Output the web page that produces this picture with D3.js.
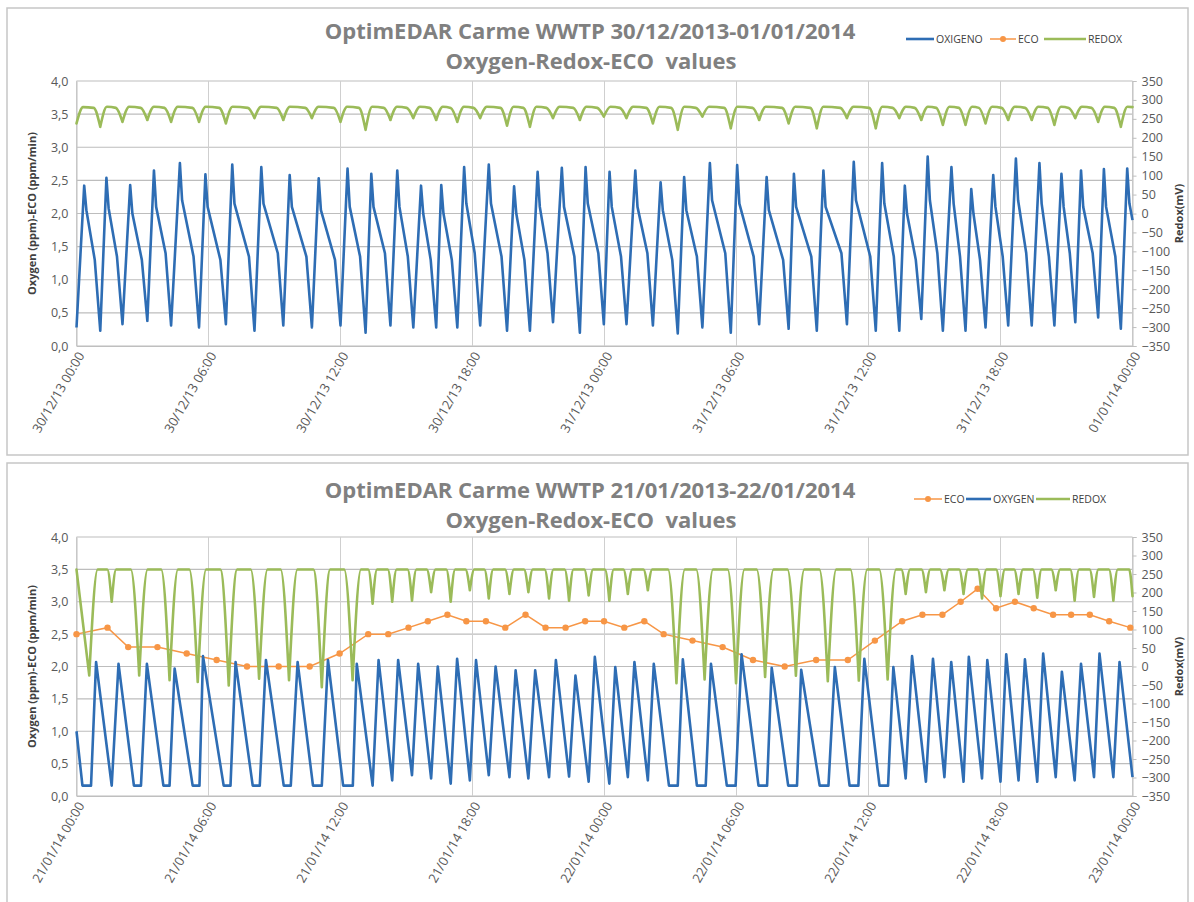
<!DOCTYPE html>
<html><head><meta charset="utf-8">
<script src="https://cdn.jsdelivr.net/npm/d3@7"></script>
<style>
body{margin:0;background:#fff}
svg{display:block}
text{font-family:"Open Sans",sans-serif}
</style>
</head><body>
<svg id="c" width="1194" height="902"></svg>
<script>
// ---------------- DATA ----------------
const leftTicks = [0, 0.5, 1, 1.5, 2, 2.5, 3, 3.5, 4];
const rightTicks = [-350,-300,-250,-200,-150,-100,-50,0,50,100,150,200,250,300,350];

const topTitle = "OptimEDAR Carme WWTP 30/12/2013-01/01/2014";
const bottomTitle = "OptimEDAR Carme WWTP 21/01/2013-22/01/2014";
const subTitle = "Oxygen-Redox-ECO  values";
const leftAxisTitle = "Oxygen (ppm)-ECO (ppm/min)";
const rightAxisTitle = "Redox(mV)";
const topLegend = ["OXIGENO", "ECO", "REDOX"];
const bottomLegend = ["ECO", "OXYGEN", "REDOX"];

// [hours since start, ppm]
const topOxygen = [[0,0.28],
[0.35,2.42],[0.45,2.05],[0.83,1.3],[1.08,0.23],
[1.36,2.54],[1.46,2.08],[1.84,1.35],[2.09,0.33],
[2.44,2.43],[2.54,2.0],[2.97,1.3],[3.22,0.38],
[3.52,2.65],[3.62,2.1],[4.05,1.4],[4.30,0.31],
[4.70,2.76],[4.80,2.2],[5.32,1.35],[5.57,0.28],
[5.86,2.59],[5.96,2.1],[6.54,1.3],[6.79,0.33],
[7.08,2.74],[7.18,2.15],[7.84,1.35],[8.09,0.23],
[8.40,2.70],[8.50,2.15],[9.15,1.4],[9.40,0.31],
[9.69,2.58],[9.79,2.1],[10.45,1.35],[10.70,0.28],
[11.01,2.53],[11.11,2.05],[11.75,1.3],[12.0,0.31],
[12.32,2.68],[12.42,2.1],[12.89,1.35],[13.14,0.2],
[13.40,2.60],[13.50,2.1],[14.02,1.4],[14.27,0.31],
[14.58,2.65],[14.68,2.1],[15.06,1.35],[15.31,0.28],
[15.66,2.42],[15.76,2.0],[16.10,1.3],[16.35,0.28],
[16.58,2.43],[16.68,2.0],[17.06,1.3],[17.31,0.28],
[17.62,2.70],[17.72,2.15],[18.10,1.4],[18.35,0.31],
[18.74,2.74],[18.84,2.15],[19.32,1.35],[19.57,0.23],
[19.89,2.41],[19.99,2.0],[20.36,1.3],[20.61,0.23],
[20.96,2.63],[21.06,2.1],[21.41,1.4],[21.66,0.36],
[22.06,2.69],[22.16,2.1],[22.63,1.35],[22.88,0.2],
[23.14,2.70],[23.24,2.15],[23.72,1.4],[23.97,0.33],
[24.23,2.63],[24.33,2.1],[24.75,1.35],[25.0,0.33],
[25.40,2.65],[25.50,2.1],[25.95,1.4],[26.2,0.31],
[26.55,2.47],[26.65,2.05],[27.08,1.3],[27.33,0.19],
[27.62,2.55],[27.72,2.05],[28.20,1.35],[28.45,0.28],
[28.79,2.76],[28.89,2.2],[29.49,1.4],[29.74,0.2],
[30.03,2.73],[30.13,2.15],[30.78,1.35],[31.03,0.33],
[31.37,2.55],[31.47,2.05],[32.12,1.3],[32.37,0.26],
[32.61,2.6],[32.71,2.1],[33.40,1.35],[33.65,0.23],
[33.95,2.65],[34.05,2.1],[34.77,1.4],[35.02,0.33],
[35.33,2.78],[35.43,2.2],[36.08,1.35],[36.33,0.23],
[36.62,2.76],[36.72,2.15],[37.15,1.35],[37.40,0.23],
[37.65,2.42],[37.75,2.0],[38.15,1.3],[38.40,0.41],
[38.69,2.86],[38.79,2.2],[39.13,1.4],[39.38,0.23],
[39.77,2.70],[39.87,2.15],[40.16,1.35],[40.41,0.23],
[40.67,2.37],[40.77,2.0],[41.07,1.3],[41.32,0.28],
[41.67,2.58],[41.77,2.1],[42.10,1.35],[42.35,0.31],
[42.70,2.83],[42.80,2.2],[43.17,1.4],[43.42,0.31],
[43.77,2.76],[43.87,2.15],[44.20,1.35],[44.45,0.31],
[44.77,2.6],[44.87,2.1],[45.15,1.4],[45.40,0.36],
[45.66,2.65],[45.76,2.1],[46.19,1.4],[46.44,0.43],
[46.70,2.67],[46.80,2.1],[47.22,1.35],[47.47,0.26],
[47.76,2.68],[47.86,2.15],[48.0,1.9]];

// [hours, mV]
const topRedox = [[0,238],[0.3,281],[0.78,279],[1.08,229],[1.38,282],[1.79,279],[2.09,242],[2.39,282],[2.92,279],[3.22,247],[3.52,282],[4.0,279],[4.30,242],[4.6,282],[5.27,279],[5.57,242],[5.87,282],[6.49,279],[6.79,238],[7.09,282],[7.79,279],[8.09,252],[8.39,282],[9.1,279],[9.40,247],[9.7,282],[10.4,279],[10.70,252],[11.0,282],[11.7,279],[12.0,242],[12.3,282],[12.84,279],[13.14,221],[13.44,282],[13.97,279],[14.27,247],[14.57,282],[15.01,279],[15.31,252],[15.61,282],[16.05,279],[16.35,247],[16.65,282],[17.01,279],[17.31,242],[17.61,282],[18.05,279],[18.35,252],[18.65,282],[19.27,279],[19.57,232],[19.87,282],[20.31,279],[20.61,229],[20.91,282],[21.36,279],[21.66,252],[21.96,282],[22.58,279],[22.88,247],[23.18,282],[23.67,279],[23.97,256],[24.27,282],[24.7,279],[25.0,252],[25.3,282],[25.9,279],[26.2,238],[26.5,282],[27.03,279],[27.33,221],[27.63,282],[28.15,279],[28.45,256],[28.75,282],[29.44,279],[29.74,225],[30.04,282],[30.73,279],[31.03,247],[31.33,282],[32.07,279],[32.37,238],[32.67,282],[33.35,279],[33.65,225],[33.95,282],[34.72,279],[35.02,252],[35.32,282],[36.03,279],[36.33,225],[36.63,282],[37.1,279],[37.40,252],[37.7,282],[38.1,279],[38.40,247],[38.7,282],[39.08,279],[39.38,234],[39.68,282],[40.11,279],[40.41,234],[40.71,282],[41.02,279],[41.32,238],[41.62,282],[42.05,279],[42.35,247],[42.65,282],[43.12,279],[43.42,247],[43.72,282],[44.15,279],[44.45,234],[44.75,282],[45.1,279],[45.40,252],[45.7,282],[46.14,279],[46.44,242],[46.74,282],[47.17,279],[47.47,229],[47.77,282],[48.0,281]];

const bottomOxygen = [[0,1.0],[0.27,0.16],[0.66,0.16],[0.89,2.07],[1.60,0.16],[1.91,2.04],[2.61,0.16],[2.93,0.16],[3.2,2.04],[3.95,0.16],[4.23,0.16],[4.46,1.97],[5.28,0.16],[5.59,0.16],[5.75,2.16],[6.69,0.16],[7.0,0.16],[7.23,2.07],[8.01,0.16],[8.33,0.16],[8.61,2.10],[9.42,0.16],[9.74,0.16],[10.05,2.07],[10.75,0.16],[11.15,0.16],[11.43,2.10],[12.12,0.16],[12.56,0.16],[12.74,2.04],[13.46,0.16],[13.73,2.10],[14.35,0.24],[14.62,2.10],[15.25,0.32],[15.53,2.04],[16.12,0.27],[16.42,2.0],[17.01,0.19],[17.30,2.12],[17.88,0.24],[18.16,2.10],[18.74,0.32],[19.05,2.0],[19.68,0.29],[19.96,1.94],[20.54,0.27],[20.85,1.94],[21.48,0.29],[21.79,2.10],[22.39,0.30],[22.68,1.86],[23.28,0.22],[23.56,2.15],[24.22,0.19],[24.49,1.99],[25.06,0.29],[25.36,2.07],[25.97,0.24],[26.24,2.04],[26.93,0.16],[27.33,0.16],[27.56,2.11],[28.2,0.16],[28.6,0.16],[28.84,2.04],[29.56,0.16],[29.96,0.16],[30.23,2.19],[31.0,0.16],[31.39,0.16],[31.6,1.98],[32.35,0.16],[32.75,0.16],[32.94,1.95],[33.78,0.16],[34.18,0.16],[34.47,1.99],[35.14,0.16],[35.54,0.16],[35.81,2.12],[36.5,0.16],[36.89,0.16],[37.13,1.99],[37.69,0.27],[37.98,2.16],[38.61,0.22],[38.93,2.12],[39.45,0.29],[39.76,2.07],[40.32,0.22],[40.56,2.15],[41.16,0.27],[41.4,2.10],[42.0,0.22],[42.26,2.19],[42.82,0.24],[43.11,2.11],[43.67,0.22],[43.94,2.20],[44.51,0.29],[44.79,1.92],[45.37,0.24],[45.66,2.04],[46.25,0.29],[46.5,2.20],[47.13,0.29],[47.41,2.07],[48.0,0.29]];

const bottomRedox = [[0,262],[0.58,-24],[0.96,262],[1.40,262],[1.60,175],[1.80,262],[2.47,262],[2.85,-24],[3.23,262],[3.85,262],[4.23,-37],[4.61,262],[5.13,262],[5.51,-42],[5.89,262],[6.54,262],[6.92,-51],[7.30,262],[7.92,262],[8.30,-33],[8.68,262],[9.28,262],[9.66,-37],[10.04,262],[10.77,262],[11.15,-56],[11.53,262],[12.17,262],[12.55,-37],[12.93,262],[13.26,262],[13.46,170],[13.66,262],[14.15,262],[14.35,175],[14.55,262],[15.05,262],[15.25,178],[15.45,262],[15.92,262],[16.12,201],[16.32,262],[16.81,262],[17.01,175],[17.21,262],[17.68,262],[17.88,206],[18.08,262],[18.54,262],[18.74,184],[18.94,262],[19.48,262],[19.68,196],[19.88,262],[20.34,262],[20.54,201],[20.74,262],[21.28,262],[21.48,184],[21.68,262],[22.19,262],[22.39,178],[22.59,262],[23.08,262],[23.28,192],[23.48,262],[24.02,262],[24.22,178],[24.42,262],[24.86,262],[25.06,196],[25.26,262],[25.77,262],[25.97,206],[26.17,262],[26.89,262],[27.27,-45],[27.65,262],[28.17,262],[28.55,-35],[28.93,262],[29.60,262],[29.98,-45],[30.36,262],[30.92,262],[31.30,-28],[31.68,262],[32.32,262],[32.70,-25],[33.08,262],[33.77,262],[34.15,-40],[34.53,262],[35.18,262],[35.56,-38],[35.94,262],[36.49,262],[36.87,-35],[37.25,262],[37.49,262],[37.69,196],[37.89,262],[38.41,262],[38.61,201],[38.81,262],[39.25,262],[39.45,206],[39.65,262],[40.12,262],[40.32,196],[40.52,262],[40.96,262],[41.16,184],[41.36,262],[41.80,262],[42.0,190],[42.2,262],[42.62,262],[42.82,196],[43.02,262],[43.47,262],[43.67,186],[43.87,262],[44.31,262],[44.51,206],[44.71,262],[45.17,262],[45.37,178],[45.57,262],[46.05,262],[46.25,188],[46.45,262],[46.93,262],[47.13,178],[47.33,262],[47.85,262],[48.0,190]];

const bottomEcoHours = [0,1.41,2.35,3.68,5.01,6.37,7.75,9.19,10.6,11.96,13.26,14.17,15.09,15.97,16.86,17.72,18.61,19.49,20.41,21.32,22.23,23.12,23.98,24.9,25.81,26.69,28.0,29.37,30.75,32.19,33.62,35.06,36.29,37.53,38.45,39.36,40.19,40.96,41.8,42.66,43.51,44.39,45.21,46.06,46.94,47.9];
const bottomEcoValues = [2.5,2.6,2.3,2.3,2.2,2.1,2.0,2.0,2.0,2.2,2.5,2.5,2.6,2.7,2.8,2.7,2.7,2.6,2.8,2.6,2.6,2.7,2.7,2.6,2.7,2.5,2.4,2.3,2.1,2.0,2.1,2.1,2.4,2.7,2.8,2.8,3.0,3.2,2.9,3.0,2.9,2.8,2.8,2.8,2.7,2.6];

const colBlue = "#2e6db4", colGreen = "#9bbb59", colOrange = "#f79646";

// ---------------- DRAW ----------------
const svg = d3.select("#c");
const fmtL = d => d3.format(".1f")(d).replace(".", ",");
const fmtX = d3.timeFormat("%d/%m/%y %H:%M");

function splitAtMinima(pts){
  const segs = []; let cur = [pts[0]];
  for (let i = 1; i < pts.length; i++) {
    cur.push(pts[i]);
    if (i < pts.length - 1 && pts[i][1] < pts[i-1][1] && pts[i][1] < pts[i+1][1]) { segs.push(cur); cur = [pts[i]]; }
  }
  segs.push(cur); return segs;
}

function drawChart(cfg){
  const g = svg.append("g");
  const X0 = 76.5, X1 = 1132.5;
  const start = cfg.start, end = new Date(start.getTime() + 48*3600e3);
  const toDate = h => new Date(start.getTime() + h*3600e3);
  const x = d3.scaleTime().domain([start, end]).range([X0, X1]);
  const yL = d3.scaleLinear().domain([0, 4]).range([cfg.bottom, cfg.top]);
  const yR = d3.scaleLinear().domain([-350, 350]).range([cfg.bottom, cfg.top]);
  const xTicks = d3.timeHour.every(6).range(start, new Date(end.getTime() + 1));

  // frame
  g.append("rect").attr("x", cfg.frame[0]).attr("y", cfg.frame[1]).attr("width", cfg.frame[2]).attr("height", cfg.frame[3])
    .attr("fill", "#fff").attr("stroke", "#c6c6c6").attr("stroke-width", 1.5);

  // gridlines
  g.append("g").selectAll("line").data(leftTicks).join("line")
    .attr("x1", X0).attr("x2", X1).attr("y1", d => yL(d)).attr("y2", d => yL(d))
    .attr("stroke", "#bdbdbd").attr("stroke-width", 1.2);
  g.append("g").selectAll("line").data(xTicks).join("line")
    .attr("x1", d => x(d)).attr("x2", d => x(d)).attr("y1", cfg.top).attr("y2", cfg.bottom)
    .attr("stroke", "#cfcfcf").attr("stroke-width", 1);

  // axes
  const aL = g.append("g").attr("transform", `translate(${X0},0)`)
    .call(d3.axisLeft(yL).tickValues(leftTicks).tickFormat(fmtL).tickSize(0).tickPadding(8));
  aL.select(".domain").attr("stroke", "#bfbfbf");
  aL.selectAll("text").attr("font-size", 12.5).attr("fill", "#595959").attr("font-family", "Open Sans");

  const aR = g.append("g").attr("transform", `translate(${X1},0)`)
    .call(d3.axisRight(yR).tickValues(rightTicks).tickSize(4).tickPadding(5));
  aR.select(".domain").attr("stroke", "#bfbfbf");
  aR.selectAll("line").attr("stroke", "#bfbfbf");
  aR.selectAll("text").attr("font-size", 12.5).attr("fill", "#595959").attr("font-family", "Open Sans");

  const aB = g.append("g").attr("transform", `translate(0,${cfg.bottom})`)
    .call(d3.axisBottom(x).tickValues(xTicks).tickFormat(fmtX).tickSize(0));
  aB.select(".domain").attr("stroke", "#bfbfbf");
  aB.selectAll("text").attr("font-size", 13).attr("fill", "#595959").attr("font-family", "Open Sans")
    .attr("text-anchor", "end").attr("x", -4).attr("y", 7).attr("dy", "0.35em")
    .attr("transform", "rotate(-60)");

  // axis titles
  g.append("text").attr("transform", `translate(${cfg.leftTitleX},${(cfg.top + cfg.bottom)/2}) rotate(-90)`)
    .attr("text-anchor", "middle").attr("font-size", 11).attr("font-weight", "bold").attr("fill", "#404040").text(leftAxisTitle);
  g.append("text").attr("transform", `translate(1183,${(cfg.top + cfg.bottom)/2}) rotate(-90)`)
    .attr("text-anchor", "middle").attr("font-size", 11).attr("font-weight", "bold").attr("fill", "#404040").text(rightAxisTitle);

  // titles
  g.append("text").attr("x", 590).attr("y", cfg.titleY).attr("text-anchor", "middle")
    .attr("font-size", 22).attr("font-weight", "bold").attr("fill", "#808080").text(cfg.title);
  g.append("text").attr("x", 591).attr("y", cfg.titleY + 30).attr("text-anchor", "middle").style("white-space", "pre")
    .attr("font-size", 22).attr("font-weight", "bold").attr("fill", "#808080").text(subTitle);

  // series
  const lineL = d3.line().x(d => x(toDate(d[0]))).y(d => yL(d[1]));
  const lineR = d3.line().x(d => x(toDate(d[0]))).y(d => yR(d[1])).curve(d3.curveMonotoneX);

  if (cfg.eco) {
    const eco = cfg.eco[0].map((h, i) => [h, cfg.eco[1][i]]);
    g.append("path").attr("d", lineL(eco)).attr("fill", "none").attr("stroke", colOrange).attr("stroke-width", 1.5);
    g.append("g").selectAll("circle").data(eco).join("circle")
      .attr("cx", d => x(toDate(d[0]))).attr("cy", d => yL(d[1])).attr("r", 3.2).attr("fill", colOrange);
  }
  g.append("path").attr("d", lineL(cfg.oxygen)).attr("fill", "none").attr("stroke", colBlue)
    .attr("stroke-width", 2.6).attr("stroke-linejoin", "round");
  const dR = splitAtMinima(cfg.redox).map(s => lineR(s)).join("");
  g.append("path").attr("d", dR).attr("fill", "none").attr("stroke", colGreen)
    .attr("stroke-width", 2.6).attr("stroke-linecap", "round");

  // legend
  const lg = g.append("g").attr("transform", `translate(0,${cfg.legendY})`);
  cfg.legend.forEach(it => {
    lg.append("line").attr("x1", it.x).attr("x2", it.x + it.w).attr("y1", 0).attr("y2", 0)
      .attr("stroke", it.c).attr("stroke-width", it.c === colOrange ? 1.5 : 2.6);
    if (it.c === colOrange) lg.append("circle").attr("cx", it.x + it.w/2).attr("cy", 0).attr("r", 3).attr("fill", colOrange);
    lg.append("text").attr("x", it.x + it.w + 2).attr("y", 0).attr("dy", "0.35em")
      .attr("font-size", 10.5).attr("fill", "#404040").text(it.t);
  });
}

drawChart({
  start: new Date(2013, 11, 30, 0, 0), top: 81, bottom: 346, frame: [7, 8, 1181, 447],
  title: topTitle, titleY: 39, leftTitleX: 36, legendY: 39,
  oxygen: topOxygen, redox: topRedox, eco: null,
  legend: [{t: topLegend[0], c: colBlue, x: 906, w: 28}, {t: topLegend[1], c: colOrange, x: 990, w: 26}, {t: topLegend[2], c: colGreen, x: 1044, w: 42}]
});
drawChart({
  start: new Date(2014, 0, 21, 0, 0), top: 537, bottom: 796, frame: [7, 463, 1181, 445],
  title: bottomTitle, titleY: 498, leftTitleX: 36, legendY: 499,
  oxygen: bottomOxygen, redox: bottomRedox, eco: [bottomEcoHours, bottomEcoValues],
  legend: [{t: bottomLegend[0], c: colOrange, x: 914, w: 28}, {t: bottomLegend[1], c: colBlue, x: 966, w: 25}, {t: bottomLegend[2], c: colGreen, x: 1036, w: 34}]
});
</script>
</body></html>
